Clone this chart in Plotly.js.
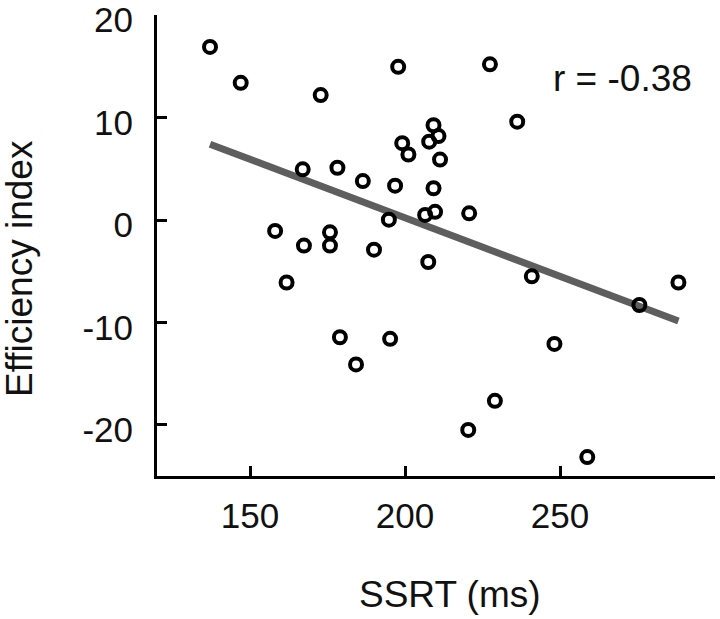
<!DOCTYPE html>
<html>
<head>
<meta charset="utf-8">
<script src="https://cdn.plot.ly/plotly-3.0.1.min.js"></script>
<style>html,body{margin:0;padding:0;background:#fff;}#chart{width:720px;height:619px;}</style>
</head>
<body>
<div id="chart"></div>
<script>
// SSRT (ms) per participant
const ssrt = [137.1, 147.0, 172.8, 167.0, 178.2, 186.4, 158.1, 167.4, 175.8, 175.8, 161.8,
  197.8, 227.4, 236.2, 209.2, 210.8, 207.8, 199.1, 201.1, 211.3, 196.8, 209.2, 206.5,
  209.7, 220.7, 194.8, 190.0, 207.5, 240.9, 288.2, 275.6, 179.0, 184.2, 195.2, 248.2,
  229.0, 220.4, 258.8];
// Efficiency index per participant
const efficiency = [16.9, 13.4, 12.2, 4.95, 5.1, 3.8, -1.07, -2.5, -1.2, -2.5, -6.1,
  14.96, 15.2, 9.6, 9.25, 8.2, 7.65, 7.5, 6.4, 5.9, 3.35, 3.1, 0.5,
  0.8, 0.65, 0.03, -2.9, -4.1, -5.5, -6.1, -8.3, -11.45, -14.1, -11.6, -12.1,
  -17.66, -20.5, -23.15];
const xTicks = [150, 200, 250];
const yTicks = [-20, -10, 0, 10, 20];
const rLabel = "r = -0.38";

// least-squares fit drawn over the data range
const n = ssrt.length;
const mx = ssrt.reduce((a, b) => a + b, 0) / n;
const my = efficiency.reduce((a, b) => a + b, 0) / n;
let sxy = 0, sxx = 0;
for (let i = 0; i < n; i++) { sxy += (ssrt[i] - mx) * (efficiency[i] - my); sxx += (ssrt[i] - mx) ** 2; }
const slope = sxy / sxx, intercept = my - slope * mx;
const xmin = Math.min(...ssrt), xmax = Math.max(...ssrt);
const fitX = [xmin, xmax];
const fitY = fitX.map(v => intercept + slope * v);

const font = "Arial, 'Liberation Sans', sans-serif";
const data = [
  {x: fitX, y: fitY, type: 'scatter', mode: 'lines', line: {color: '#5e5e5e', width: 7}, hoverinfo: 'skip', showlegend: false},
  {x: ssrt, y: efficiency, type: 'scatter', mode: 'markers',
   marker: {symbol: 'circle-open', size: 12, color: '#000', line: {width: 4, color: '#000'}}, showlegend: false}
];
const axisCommon = {
  showgrid: false, zeroline: false, showline: true, linecolor: '#000', linewidth: 3,
  ticks: 'inside', ticklen: 10, tickwidth: 3, tickcolor: '#000',
  tickfont: {family: font, size: 35, color: '#111'}, tickmode: 'array',
  ticklabeloverflow: 'allow'
};
const layout = {
  width: 720, height: 619,
  margin: {l: 157, r: 5, t: 15, b: 143},
  paper_bgcolor: '#fff', plot_bgcolor: '#fff',
  font: {family: font, color: '#111'},
  xaxis: Object.assign({}, axisCommon, {range: [120, 300], tickvals: xTicks, ticktext: xTicks.map(String), ticklabelstandoff: 7}),
  yaxis: Object.assign({}, axisCommon, {range: [-25, 20.02], tickvals: yTicks, ticktext: yTicks.map(String), ticklabelstandoff: 14, ticklabelshift: 5}),
  annotations: [
    {text: rLabel, xref: 'paper', yref: 'paper', x: 0.706, y: 0.862, xanchor: 'left', yanchor: 'middle', showarrow: false, font: {family: font, size: 37, color: '#111'}},
    {text: 'SSRT (ms)', xref: 'paper', yref: 'paper', x: 0.525, y: -0.256, xanchor: 'center', yanchor: 'middle', showarrow: false, font: {family: font, size: 37, color: '#111'}},
    {text: 'Efficiency index', xref: 'paper', yref: 'paper', x: -0.2475, y: 0.451, xanchor: 'center', yanchor: 'middle', textangle: -90, showarrow: false, font: {family: font, size: 37, color: '#111'}}
  ]
};
Plotly.newPlot('chart', data, layout, {displayModeBar: false, staticPlot: true});
</script>
</body>
</html>
